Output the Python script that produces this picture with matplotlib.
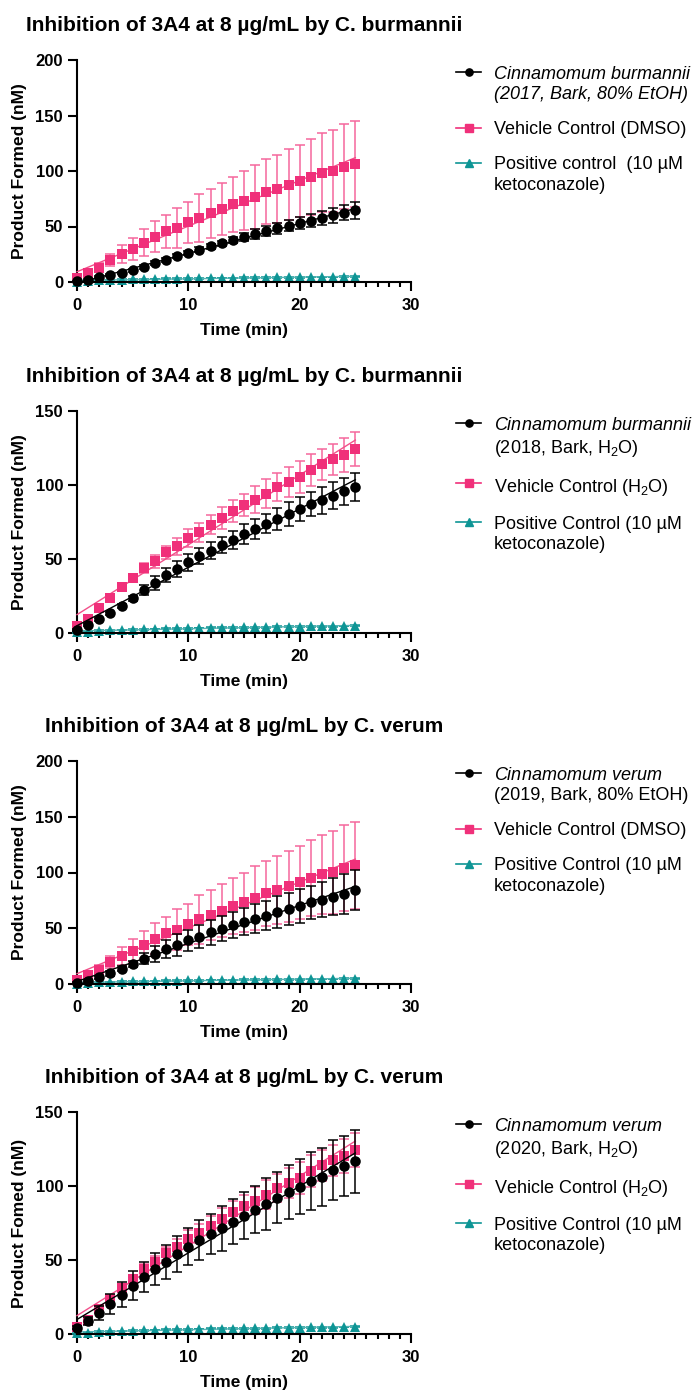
import numpy as np
import matplotlib
matplotlib.use("Agg")
import matplotlib.pyplot as plt
from matplotlib.lines import Line2D
from matplotlib.offsetbox import HPacker
from matplotlib.ticker import MultipleLocator

plt.rcParams['font.family'] = ['Liberation Sans', 'DejaVu Sans']
plt.rcParams['mathtext.fontset'] = 'custom'
plt.rcParams['mathtext.rm'] = 'Liberation Sans'
plt.rcParams['mathtext.it'] = 'Liberation Sans:italic'
plt.rcParams['mathtext.bf'] = 'Liberation Sans:bold'

# ---------------- data ----------------
time_min = list(range(26))

# Vehicle control (DMSO) - panels 1 and 3
dmso_mean = [3.9, 8.0, 12.9, 19.5, 24.9, 29.7, 35.4, 40.8, 45.6, 48.6, 53.7, 57.9, 61.8,
             65.7, 69.9, 73.2, 76.8, 81.3, 84.0, 87.6, 91.2, 94.8, 98.4, 100.2, 104.0, 106.4]
dmso_sd = [1.0, 2.5, 4.0, 5.5, 8.0, 10.3, 12.0, 14.0, 14.7, 18.3, 18.3, 21.6, 22.2,
           23.7, 25.0, 26.7, 28.7, 29.3, 30.5, 32.0, 32.6, 34.2, 35.6, 37.0, 38.4, 39.0]

# Vehicle control (H2O) - panels 2 and 4
h2o_mean = [4.5, 9.4, 16.6, 23.6, 31.0, 36.9, 43.9, 48.6, 54.4, 58.5, 64.1, 68.1, 73.3,
            77.6, 82.3, 86.4, 90.0, 94.2, 98.5, 102.3, 105.7, 110.2, 114.0, 117.4, 120.3, 124.1]
h2o_sd = [0.5, 0.8, 1.0, 1.2, 1.5, 2.0, 3.1, 4.4, 4.5, 5.6, 5.9, 6.3, 6.7,
          7.4, 7.4, 7.6, 9.0, 9.9, 9.5, 10.1, 10.8, 10.6, 10.6, 10.6, 11.2, 11.5]

# Positive control (10 uM ketoconazole)
keto_mean = [0.4, 1.0, 1.4, 1.7, 2.0, 2.3, 2.5, 2.7, 2.9, 3.1, 3.3, 3.4, 3.5,
             3.6, 3.7, 3.8, 3.9, 4.0, 4.1, 4.2, 4.3, 4.4, 4.5, 4.6, 4.7, 4.8]
keto_sd = [0.2, 0.3, 0.3, 0.3, 0.3, 0.3, 0.3, 0.3, 0.3, 0.3, 0.3, 0.3, 0.3,
           0.3, 0.3, 0.3, 0.3, 0.3, 0.3, 0.3, 0.3, 0.3, 0.3, 0.3, 0.3, 0.3]

# C. burmannii 2017, bark, 80% EtOH
burm2017_mean = [0.5, 2.1, 4.2, 6.0, 8.1, 10.5, 13.5, 17.1, 20.0, 23.4, 26.0, 29.0, 32.0,
                 34.8, 37.8, 40.2, 43.2, 45.9, 48.3, 50.7, 53.0, 55.2, 57.6, 60.0, 62.4, 64.5]
burm2017_sd = [0.5, 0.8, 1.0, 1.0, 1.2, 1.3, 1.5, 1.6, 1.8, 2.0, 2.0, 2.2, 2.3,
               2.4, 2.5, 3.5, 4.5, 4.5, 5.0, 5.0, 5.5, 6.0, 6.5, 6.5, 6.6, 7.5]

# C. burmannii 2018, bark, H2O
burm2018_mean = [2.2, 5.4, 9.4, 13.3, 18.0, 23.4, 29.2, 34.0, 39.1, 43.4, 47.7, 51.7, 55.5,
                 59.4, 63.0, 66.8, 70.2, 73.8, 77.1, 80.5, 83.7, 87.0, 89.7, 92.9, 95.8, 98.5]
burm2018_sd = [0.8, 1.0, 1.0, 1.2, 1.3, 1.5, 3.2, 4.7, 4.8, 5.4, 5.8, 5.4, 5.7,
               5.6, 6.0, 6.7, 6.7, 6.5, 7.2, 7.9, 8.0, 8.1, 9.0, 9.0, 9.2, 9.5]

# C. verum 2019, bark, 80% EtOH
verum2019_mean = [0.9, 3.0, 6.0, 9.6, 13.8, 18.0, 22.8, 27.3, 31.5, 35.1, 39.3, 42.6, 46.2,
                  49.5, 52.8, 55.8, 58.5, 61.2, 64.5, 67.2, 70.2, 73.2, 75.6, 78.3, 81.0, 84.0]
verum2019_sd = [0.8, 1.0, 1.5, 2.0, 2.5, 3.0, 5.1, 7.2, 8.1, 9.9, 9.3, 9.9, 10.8,
                11.1, 11.4, 12.0, 12.9, 13.2, 14.1, 14.7, 15.3, 15.0, 15.9, 16.7, 18.0, 18.0]

# C. verum 2020, bark, H2O
verum2020_mean = [4.3, 8.8, 14.2, 20.2, 26.5, 32.6, 38.7, 43.9, 48.6, 54.0, 58.9, 63.2, 67.5,
                  71.3, 76.0, 80.0, 84.1, 87.9, 92.2, 95.8, 99.4, 103.4, 106.1, 110.6, 113.3, 116.7]
verum2020_sd = [1.0, 2.4, 4.7, 6.6, 8.4, 9.7, 10.1, 11.0, 11.2, 12.1, 12.4, 13.5, 13.7,
                15.1, 15.5, 15.8, 15.9, 17.3, 17.3, 18.2, 18.6, 19.8, 19.6, 20.3, 20.3, 21.4]

titles = ["Inhibition of 3A4 at 8 \u00b5g/mL by C. burmannii",
          "Inhibition of 3A4 at 8 \u00b5g/mL by C. burmannii",
          "Inhibition of 3A4 at 8 \u00b5g/mL by C. verum",
          "Inhibition of 3A4 at 8 \u00b5g/mL by C. verum"]
ylabels = ["Product Formed (nM)", "Product Formed (nM)",
           "Product Formed (nM)", "Product Fomed (nM)"]
ymaxes = [200, 150, 200, 150]
xlabel = "Time (min)"

extract_labels = ["Cinnamomum burmannii\n(2017, Bark, 80% EtOH)",
                  r"$\mathit{Cinnamomum\ burmannii}$" + "\n(2018, Bark, H$_2$O)",
                  r"$\mathit{Cinnamomum\ verum}$" + "\n(2019, Bark, 80% EtOH)",
                  r"$\mathit{Cinnamomum\ verum}$" + "\n(2020, Bark, H$_2$O)"]
vehicle_labels = ["Vehicle Control (DMSO)", "Vehicle Control (H$_2$O)",
                  "Vehicle Control (DMSO)", "Vehicle Control (H$_2$O)"]
positive_labels = ["Positive control  (10 \u00b5M\nketoconazole)",
                   "Positive Control (10 \u00b5M\nketoconazole)",
                   "Positive Control (10 \u00b5M\nketoconazole)",
                   "Positive Control (10 \u00b5M\nketoconazole)"]

extract_means = [burm2017_mean, burm2018_mean, verum2019_mean, verum2020_mean]
extract_sds = [burm2017_sd, burm2018_sd, verum2019_sd, verum2020_sd]
vehicle_means = [dmso_mean, h2o_mean, dmso_mean, h2o_mean]
vehicle_sds = [dmso_sd, h2o_sd, dmso_sd, h2o_sd]

# ---------------- style ----------------
BLACK = "#000000"
PINK = "#F0307A"
PINK_ERR = "#F5679C"
PINK_FIT = "#F2508A"
TEAL = "#0E9595"
TEAL_FIT = "#55B5B5"

W, H = 696, 1393
fig = plt.figure(figsize=(W / 100, H / 100), dpi=100)

tops = [60, 411, 761, 1112]
bottoms = [282, 633, 984, 1334]
left_px, right_px = 77, 411

t = np.array(time_min, dtype=float)


def fit_line(ax, x, y, color, lw, z):
    c = np.polyfit(x, y, 1)
    xs = np.array([x.min(), x.max()])
    ax.plot(xs, np.polyval(c, xs), color=color, lw=lw, zorder=z, clip_on=False)


for i in range(4):
    ax = fig.add_axes([left_px / W, 1 - bottoms[i] / H,
                       (right_px - left_px) / W, (bottoms[i] - tops[i]) / H])
    series = [
        (keto_mean, keto_sd, TEAL, TEAL, TEAL_FIT, '^', 7.0, 2),
        (vehicle_means[i], vehicle_sds[i], PINK, PINK_ERR, PINK_FIT, 's', 6.8, 3),
        (extract_means[i], extract_sds[i], BLACK, BLACK, BLACK, 'o', 7.6, 4),
    ]
    for mean, sd, col, ecol, fcol, mk, ms, z in series:
        y = np.array(mean)
        ax.errorbar(t, y, yerr=np.array(sd), fmt='none', ecolor=ecol,
                    elinewidth=1.1, capsize=3.6, capthick=1.1, zorder=z, clip_on=False)
        ax.plot(t, y, linestyle='none', marker=mk, ms=ms, color=col,
                markeredgewidth=0, zorder=z + 0.2, clip_on=False)
        fit_line(ax, t, y, fcol, 1.0, z + 0.1)

    ax.set_xlim(0, 30)
    ax.set_ylim(0, ymaxes[i])
    ax.xaxis.set_major_locator(MultipleLocator(10))
    ax.xaxis.set_minor_locator(MultipleLocator(1))
    ax.yaxis.set_major_locator(MultipleLocator(50))
    for s in ['top', 'right']:
        ax.spines[s].set_visible(False)
    for s in ['left', 'bottom']:
        ax.spines[s].set_linewidth(1.5)
    ax.tick_params(axis='both', which='major', length=6.5, width=1.5,
                   labelsize=12, pad=3.5)
    ax.tick_params(axis='x', which='major', pad=5)
    ax.tick_params(axis='x', which='minor', length=3.5, width=1.5)
    for lab in ax.get_xticklabels() + ax.get_yticklabels():
        lab.set_fontweight('bold')
    ax.set_xlabel(xlabel, fontsize=12.5, fontweight='bold', labelpad=7)
    ax.set_ylabel(ylabels[i], fontsize=12.5, fontweight='bold', labelpad=6)
    ax.set_title(titles[i], fontsize=15, fontweight='bold', pad=21)

    handles = [
        Line2D([], [], color=BLACK, marker='o', ms=5.2, lw=1.2),
        Line2D([], [], color=PINK, marker='s', ms=5.2, lw=1.2),
        Line2D([], [], color=TEAL, marker='^', ms=5.2, lw=1.2),
    ]
    labels = [extract_labels[i], vehicle_labels[i], positive_labels[i]]
    leg = ax.legend(handles, labels, loc='upper left',
                    bbox_to_anchor=(456 / W, 1 - (tops[i] + 6) / H),
                    bbox_transform=fig.transFigure, frameon=False, fontsize=13,
                    handlelength=1.4, handletextpad=0.7, labelspacing=1.0,
                    borderaxespad=0, borderpad=0)
    for txt in leg.get_texts():
        txt.set_linespacing(1.25)
    for hp in leg.findobj(HPacker):
        hp.align = 'top'
    if i == 0:
        leg.get_texts()[0].set_fontstyle('italic')

fig.savefig("out.png", dpi=100)
